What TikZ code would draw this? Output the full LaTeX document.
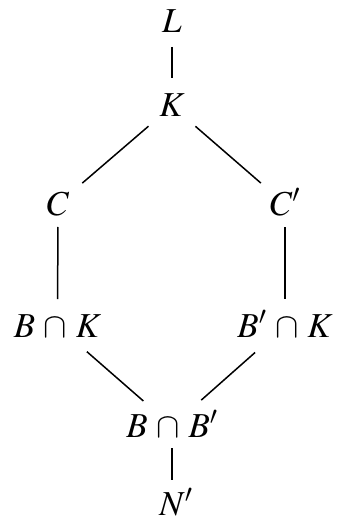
\documentclass[tikz,border=0pt]{standalone}
\usepackage{mathptmx}
\newcommand{\meet}{\mskip2mu\cap\mskip2mu}
\begin{document}
\begin{tikzpicture}[x=1pt, y=-1pt,
  lat/.style={inner sep=0pt, text height=22pt, text depth=0pt,
    font=\fontsize{35}{42}\selectfont},
  edge/.style={line width=1.5pt}]
\useasboundingbox (0,0) rectangle (347,518);
% lattice elements
\node[lat] (L)   at (172,22)  {$L$};
\node[lat] (K)   at (172,106) {$K$};
\node[lat] (C)   at (58,204)  {$C$};
\node[lat] (Cp)  at (285,204) {$C'$};
\node[lat] (BK)  at (57.5,326) {$B\meet K$};
\node[lat] (BpK) at (285,326) {$B'\meet K$};
\node[lat] (BB)  at (172,426) {$B\meet B'$};
\node[lat] (Np)  at (176,504) {$N'$};
% covering relations
\draw[edge, shorten <=25pt, shorten >=28pt] (L.center) -- (K.center);
\draw[edge, shorten <=31pt, shorten >=32pt] (K.center) -- (C.center);
\draw[edge, shorten <=31pt, shorten >=32pt] (K.center) -- (Cp.center);
\draw[edge, shorten <=23pt, shorten >=27pt] (C.center) -- (BK.center);
\draw[edge, shorten <=23pt, shorten >=27pt] (Cp.center) -- (BpK.center);
\draw[edge, shorten <=39pt, shorten >=38pt] (BK.center) -- (BB.center);
\draw[edge, shorten <=40pt, shorten >=39pt] (BpK.center) -- (BB.center);
\draw[edge, shorten <=22pt, shorten >=24pt] (BB.center) -- (BB.center |- Np.center);
\end{tikzpicture}
\end{document}
